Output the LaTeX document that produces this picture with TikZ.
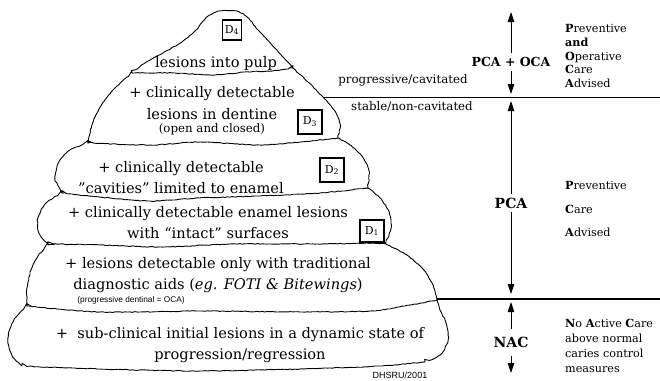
\documentclass[tikz,border=0pt]{standalone}
\usepackage{fontspec}
\setmainfont{DejaVu Serif}
\newfontfamily\labelsans{Liberation Sans}
\usetikzlibrary{arrows.meta,decorations.pathmorphing}

\tikzset{
	stratum/.style={draw, fill=white, line width=0.9pt, line join=round,
		decorate, decoration={random steps, segment length=2.5pt, amplitude=0.4pt}},
	stage/.style={align=center, font=\fontsize{14.6}{21.5}\selectfont},
	remark/.style={font=\fontsize{11.8}{12}\selectfont},
	dbox/.style={draw, line width=1.1pt, minimum width=24pt, minimum height=24pt,
		inner sep=0pt, font=\fontsize{11}{11}\selectfont},
	care/.style={font=\bfseries\fontsize{12.5}{14}\selectfont, inner sep=4pt},
	advice/.style={anchor=west, align=left, inner sep=0pt},
	pfeil/.style={-{Triangle[length=10pt,width=6.5pt]}, line width=0.9pt},
}

\begin{document}
\begin{tikzpicture}[x=1pt, y=-1pt]
	\useasboundingbox (0,0) rectangle (660,380);
	\pgfmathsetseed{4}
	% Schichten
	\draw[stratum] plot[smooth] coordinates {(27,306) (14,320) (8,338) (12,355) (22,366)}
		-- plot[smooth] coordinates {(22,366) (100,369) (200,371) (300,369) (380,366) (425,362)}
		-- plot[smooth] coordinates {(425,362) (440,355) (448,340) (446,323) (440,310) (437,300)}
		-- (300,302) -- (100,302) -- cycle;
	\draw[stratum] plot[smooth] coordinates {(48,245) (38,256) (31,270) (27,288) (27,306)}
		-- plot[smooth] coordinates {(27,306) (100,312) (200,311) (300,312) (370,311) (405,306) (437,300)}
		-- plot[smooth] coordinates {(437,300) (433,285) (422,268) (405,254) (386,244)}
		-- (300,238) -- (100,238) -- cycle;
	\draw[stratum] plot[smooth] coordinates {(62,193) (46,203) (38,218) (39,233) (48,244)}
		-- plot[smooth] coordinates {(48,244) (100,245) (165,247) (230,244) (310,244) (386,243)}
		-- plot[smooth] coordinates {(386,243) (391,228) (389,212) (380,198) (368,188)}
		-- (300,186) -- (120,188) -- cycle;
	\draw[stratum] plot[smooth] coordinates {(88,143) (70,150) (59,162) (55,178) (62,193)}
		-- plot[smooth] coordinates {(62,193) (100,197) (150,201) (200,198) (260,196) (320,193) (368,188)}
		-- plot[smooth] coordinates {(368,188) (369,171) (362,156) (350,145) (338,138)}
		-- (280,136) -- (130,137) -- cycle;
	\draw[stratum] plot[smooth] coordinates {(132,73) (115,88) (101,106) (92,125) (88,143)}
		-- plot[smooth] coordinates {(88,143) (150,145) (200,142) (260,145) (300,142) (338,138)}
		-- plot[smooth] coordinates {(338,138) (340,124) (334,110) (323,97) (308,82) (293,68)}
		-- (250,62) -- (170,64) -- cycle;
	\draw[stratum] plot[smooth] coordinates {(132,73) (145,63) (163,53) (182,42) (196,30) (207,17)
			(220,11) (236,11) (247,17) (259,31) (272,45) (284,58) (293,68)}
		-- plot[smooth] coordinates {(293,68) (272,71) (245,72) (215,75) (175,73) (132,73)}
		-- cycle;
	% Grenzen
	\coordinate (cav) at (323,97);
	\coordinate (cavend) at (660,97);
	\coordinate (nacline) at (437,299);
	\coordinate (nacend) at (660,299);
	\draw[line width=0.9pt] (cav) -- (cavend);
	\draw[line width=2.6pt] (nacline) -- (nacend);
	% Texte
	\node[stage] (pulp) at (216,63) {lesions into pulp};
	\node[stage] (dentine) at (212,103) {+ clinically detectable\\lesions in dentine};
	\node[remark] (openclosed) at (212,129) {(open and closed)};
	\node[stage] (cavities) at (181,177.5) {+ clinically detectable\\\symbol{34}cavities\symbol{34} limited to enamel};
	\node[stage] (enamel) at (208,222.5) {+ clinically detectable enamel lesions\\with “intact” surfaces};
	\node[stage] (aids) at (218,275) {+ lesions detectable only with traditional\\diagnostic aids (\textit{eg. FOTI \& Bitewings})};
	\node[font=\labelsans\fontsize{8.3}{9}\selectfont] (dentinal) at (131,300) {(progressive dentinal = OCA)};
	\node[stage] (subclinical) at (240,345) {+\ \ sub-clinical initial lesions in a dynamic state of\\progression/regression};
	\node[dbox, minimum width=19pt, minimum height=20pt] (dfour) at (232,30) {D\textsubscript{4}};
	\node[dbox] (dthree) at (310,122) {D\textsubscript{3}};
	\node[dbox] (dtwo) at (332,170) {D\textsubscript{2}};
	\node[dbox, minimum height=22pt] (done) at (372,231) {D\textsubscript{1}};
	\node[remark] (progressive) at (403,80) {progressive/cavitated};
	\node[remark] (stable) at (412,107) {stable/non-cavitated};
	\node[font=\labelsans\fontsize{9}{9}\selectfont] (dhsru) at (400,375) {DHSRU/2001};
	% Pfeile
	\node[care] (pcaoca) at (511,62) {PCA + OCA};
	\coordinate (ocatop) at (511,12);
	\coordinate (ocabot) at (511,94);
	\draw[pfeil] (pcaoca.north) -- (ocatop);
	\draw[pfeil] (pcaoca.south) -- (ocabot);
	\node[care, font=\bfseries\fontsize{14}{14}\selectfont] (pca) at (511,203) {PCA};
	\coordinate (pcatop) at (511,101);
	\coordinate (pcabot) at (511,294);
	\draw[pfeil] (pca.north) -- (pcatop);
	\draw[pfeil] (pca.south) -- (pcabot);
	\node[care, font=\bfseries\fontsize{14}{14}\selectfont, inner ysep=8pt] (nac) at (511,342) {NAC};
	\coordinate (nactop) at (511,302);
	\coordinate (nacbot) at (511,373);
	\draw[pfeil] (nac.north) -- (nactop);
	\draw[pfeil] (nac.south) -- (nacbot);
	% Empfehlung
	\node[advice, font=\fontsize{11.2}{13.8}\selectfont] (poca) at (565,56)
		{\textbf{P}reventive\\\textbf{and}\\\textbf{O}perative\\\textbf{C}are\\\textbf{A}dvised};
	\node[advice, font=\fontsize{11.2}{23.5}\selectfont] (pcare) at (565,209)
		{\textbf{P}reventive\\\textbf{C}are\\\textbf{A}dvised};
	\node[advice, font=\fontsize{11.2}{15}\selectfont] (nocare) at (565,345.5)
		{\textbf{N}o \textbf{A}ctive \textbf{C}are\\above normal\\caries control\\measures};
\end{tikzpicture}
\end{document}
